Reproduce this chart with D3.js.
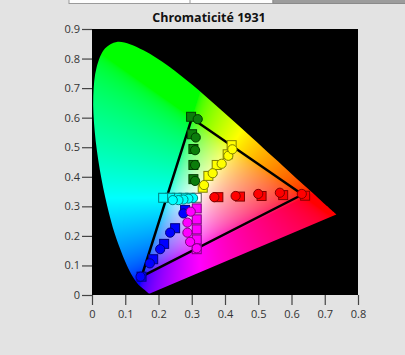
<!DOCTYPE html>
<html>
<head>
<meta charset="utf-8">
<script src="https://cdn.jsdelivr.net/npm/d3@7"></script>
<style>
  body { margin: 0; background: #e3e3e3; }
  svg { display: block; }
</style>
</head>
<body>
<div id="chart"></div>
<script>
// spectral locus as it sits in the picture (380..700 nm)
const locusX = [0.1741,0.1740,0.1738,0.1736,0.1733,0.1730,0.1726,0.1721,0.1714,0.1703,0.1689,0.1669,0.1644,0.1611,0.1566,0.1510,0.1440,0.1355,0.1241,0.1096,0.0913,0.0687,0.0454,0.0235,0.0082,0.0039,0.0139,0.0389,0.0743,0.1142,0.1547,0.1929,0.2296,0.2658,0.3016,0.3373,0.3731,0.4087,0.4441,0.4788,0.5125,0.5448,0.5752,0.6029,0.6270,0.6482,0.6658,0.6801,0.6915,0.7006,0.7079,0.7140,0.7190,0.7230,0.7260,0.7283,0.7300,0.7311,0.7320,0.7327,0.7334,0.7344,0.7347];
const locusY = [0.0051,0.0051,0.0050,0.0050,0.0049,0.0049,0.0049,0.0049,0.0052,0.0060,0.0071,0.0088,0.0112,0.0142,0.0182,0.0233,0.0305,0.0410,0.0594,0.0891,0.1363,0.2061,0.3030,0.4238,0.5529,0.6725,0.7705,0.8339,0.8563,0.8485,0.8277,0.8027,0.7747,0.7439,0.7110,0.6767,0.6414,0.6055,0.5697,0.5342,0.4997,0.4667,0.4357,0.4072,0.3826,0.3609,0.3430,0.3283,0.3166,0.3074,0.2999,0.2936,0.2885,0.2845,0.2814,0.2790,0.2773,0.2762,0.2752,0.2745,0.2738,0.2728,0.2725];

// gamut triangle (R, G, B)
const gamutX = [0.633, 0.300, 0.149];
const gamutY = [0.340, 0.598, 0.062];

// measured (squares) and target (circles) points per colour
const seriesNames = ["red", "green", "blue", "cyan", "magenta", "yellow", "white"];
const squareX = {
  red:     [0.380, 0.445, 0.510, 0.575, 0.641],
  green:   [0.305, 0.305, 0.305, 0.301, 0.298],
  blue:    [0.280, 0.250, 0.217, 0.184, 0.149],
  cyan:    [0.295, 0.275, 0.255, 0.235, 0.214],
  magenta: [0.315, 0.315, 0.315, 0.315, 0.315],
  yellow:  [0.333, 0.350, 0.375, 0.408, 0.420],
  white:   [0.315]
};
const squareY = {
  red:     [0.331, 0.333, 0.335, 0.338, 0.336],
  green:   [0.392, 0.440, 0.494, 0.544, 0.603],
  blue:    [0.288, 0.226, 0.173, 0.121, 0.062],
  cyan:    [0.329, 0.329, 0.329, 0.329, 0.329],
  magenta: [0.293, 0.256, 0.222, 0.188, 0.155],
  yellow:  [0.363, 0.403, 0.440, 0.476, 0.507],
  white:   [0.329]
};
const circleX = {
  red:     [0.368, 0.432, 0.500, 0.565, 0.631],
  green:   [0.310, 0.310, 0.310, 0.312, 0.318],
  blue:    [0.275, 0.235, 0.205, 0.174, 0.146],
  cyan:    [0.304, 0.290, 0.275, 0.260, 0.243],
  magenta: [0.297, 0.287, 0.287, 0.295, 0.315],
  yellow:  [0.337, 0.363, 0.390, 0.410, 0.422],
  white:   []
};
const circleY = {
  red:     [0.331, 0.335, 0.342, 0.346, 0.342],
  green:   [0.386, 0.440, 0.490, 0.533, 0.595],
  blue:    [0.276, 0.211, 0.155, 0.107, 0.062],
  cyan:    [0.328, 0.326, 0.323, 0.321, 0.321],
  magenta: [0.282, 0.245, 0.211, 0.180, 0.158],
  yellow:  [0.372, 0.412, 0.444, 0.471, 0.493],
  white:   []
};
const fills   = { red: "#ff0000", green: "#0b7d0b", blue: "#0000ff", cyan: "#00ffff", magenta: "#ff00ff", yellow: "#ffff00", white: "#ffffff" };
const strokes = { red: "#800000", green: "#003c00", blue: "#000080", cyan: "#007f7f", magenta: "#800080", yellow: "#7f7f00", white: "#555555" };

const xTicks = [0, 0.1, 0.2, 0.3, 0.4, 0.5, 0.6, 0.7, 0.8];
const yTicks = [0, 0.1, 0.2, 0.3, 0.4, 0.5, 0.6, 0.7, 0.8, 0.9];
const title = "Chromaticité 1931";

const width = 405, height = 355;
const x = d3.scaleLinear().domain([0, 0.8]).range([92, 358]);
const y = d3.scaleLinear().domain([0, 0.9]).range([295, 29]);

const svg = d3.select("#chart").append("svg")
    .attr("width", width)
    .attr("height", height);

// bit of toolbar at the top
svg.append("rect").attr("x", 69).attr("y", -1).attr("width", 204).attr("height", 4.5)
    .attr("fill", "#fdfdfd").attr("stroke", "#9a9a9a");
svg.append("line").attr("x1", 190).attr("x2", 190).attr("y1", 0).attr("y2", 4).attr("stroke", "#9a9a9a");
svg.append("rect").attr("x", 273).attr("y", -1).attr("width", 140).attr("height", 4.5)
    .attr("fill", "#9c9c9c").attr("stroke", "#8a8a8a");

// title
svg.append("text")
    .attr("x", 209).attr("y", 22)
    .attr("text-anchor", "middle")
    .attr("font-family", "'Open Sans', sans-serif")
    .attr("font-weight", "bold")
    .attr("font-size", "12.5px")
    .attr("fill", "#111")
    .text(title);

// black plot area
const [x0, x1] = x.range();
const [y0, y1] = [y(0.9), y(0)];
svg.append("rect")
    .attr("x", x0).attr("y", y0)
    .attr("width", x1 - x0).attr("height", y1 - y0)
    .attr("fill", "#000");

// colour fill of the horseshoe, per pixel on a canvas
const pw = Math.round(x1 - x0), ph = Math.round(y1 - y0);
const canvas = document.createElement("canvas");
canvas.width = pw; canvas.height = ph;
const ctx = canvas.getContext("2d");
const img = ctx.createImageData(pw, ph);
const gam = v => v <= 0.0031308 ? 12.92 * v : 1.055 * Math.pow(v, 1 / 2.4) - 0.055;
for (let j = 0; j < ph; j++) {
    for (let i = 0; i < pw; i++) {
        const cx = x.invert(x0 + i + 0.5), cy = y.invert(y0 + j + 0.5);
        const k = (j * pw + i) * 4;
        if (cy <= 0.001) { img.data[k + 3] = 0; continue; }
        const X = cx / cy, Y = 1, Z = (1 - cx - cy) / cy;
        let r = 3.2406 * X - 1.5372 * Y - 0.4986 * Z;
        let g = -0.9689 * X + 1.8758 * Y + 0.0415 * Z;
        let b = 0.0557 * X - 0.2040 * Y + 1.0570 * Z;
        r = Math.max(r, 0); g = Math.max(g, 0); b = Math.max(b, 0);
        const m = Math.max(r, g, b) || 1;
        img.data[k]     = Math.round(255 * gam(r / m));
        img.data[k + 1] = Math.round(255 * gam(g / m));
        img.data[k + 2] = Math.round(255 * gam(b / m));
        img.data[k + 3] = 255;
    }
}
ctx.putImageData(img, 0, 0);
ctx.globalCompositeOperation = "destination-in";
ctx.beginPath();
d3.line()
    .x(d => x(d) - x0)
    .y((d, i) => y(locusY[i]) - y0)
    .curve(d3.curveCatmullRom)
    .context(ctx)(locusX);
ctx.closePath();
ctx.fill();

svg.append("image")
    .attr("x", x0).attr("y", y0)
    .attr("width", pw).attr("height", ph)
    .attr("href", canvas.toDataURL());

// gamut triangle
svg.append("path")
    .attr("d", d3.line().x((d, i) => x(gamutX[i])).y((d, i) => y(gamutY[i]))
        .curve(d3.curveLinearClosed)(gamutX))
    .attr("fill", "none")
    .attr("stroke", "#000")
    .attr("stroke-width", 2.5)
    .attr("stroke-linejoin", "round");

// markers: squares first, circles on top
const sq = 9;
const marks = svg.append("g");
seriesNames.forEach(s => {
    marks.selectAll(null)
        .data(squareX[s])
        .join("rect")
        .attr("x", (d) => x(d) - sq / 2)
        .attr("y", (d, i) => y(squareY[s][i]) - sq / 2)
        .attr("width", sq).attr("height", sq)
        .attr("fill", fills[s])
        .attr("stroke", strokes[s])
        .attr("stroke-width", 1);
});
seriesNames.forEach(s => {
    marks.selectAll(null)
        .data(circleX[s])
        .join("circle")
        .attr("cx", d => x(d))
        .attr("cy", (d, i) => y(circleY[s][i]))
        .attr("r", 4.6)
        .attr("fill", fills[s])
        .attr("stroke", strokes[s])
        .attr("stroke-width", 1);
});

// axes
const fmt = d => d === 0 ? "0" : d3.format(".1f")(d);
const yAxis = svg.append("g")
    .attr("transform", `translate(${x0},0)`)
    .call(d3.axisLeft(y).tickValues(yTicks).tickFormat(fmt).tickSize(10).tickPadding(2));
const xAxis = svg.append("g")
    .attr("transform", `translate(0,${y1})`)
    .call(d3.axisBottom(x).tickValues(xTicks).tickFormat(fmt).tickSize(10).tickPadding(5));
[xAxis, yAxis].forEach(a => {
    a.select(".domain").remove();
    a.selectAll(".tick line").attr("stroke", "#444").attr("stroke-width", 1.2);
    a.selectAll(".tick text")
        .attr("fill", "#333")
        .attr("font-family", "'Open Sans', sans-serif")
        .attr("font-size", "11px");
});
</script>
</body>
</html>
